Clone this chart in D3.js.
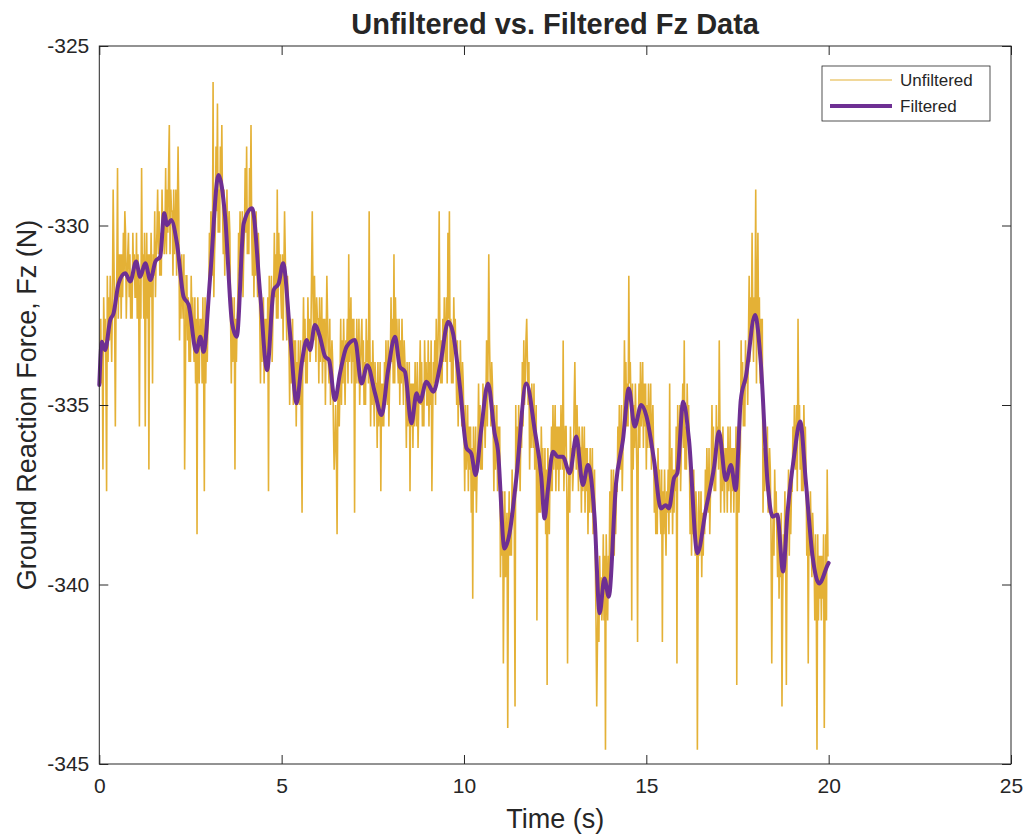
<!DOCTYPE html>
<html><head><meta charset="utf-8">
<script src="https://cdn.jsdelivr.net/npm/d3@7/dist/d3.min.js"></script>
<style>
body{margin:0;background:#fff}
svg{display:block}
text{font-family:"Liberation Sans",Arial,Helvetica,sans-serif;fill:#262626}
</style>
</head><body>
<svg id="chart" width="1026" height="838"></svg>
<script>
// ---------------- data ----------------
const titleText = "Unfiltered vs. Filtered Fz Data";
const xLabelText = "Time (s)";
const yLabelText = "Ground Reaction Force, Fz (N)";
const seriesNames = ["Unfiltered", "Filtered"];
const xTicks = [0, 5, 10, 15, 20, 25];
const yTicks = [-345, -340, -335, -330, -325];
const xDomain = [0, 25];
const yDomain = [-345, -325];

// raw force-plate samples (N), one every 0.02 s starting at t = 0 (one row per 0.2 s)
const sampleInterval = 0.02;
const unfiltered = [
-334.4,-333.8,-332.6,-334.4,-333.2,-336.8,-332.0,-333.2,-332.6,-333.8,
-337.4,-331.4,-333.8,-332.0,-333.2,-331.4,-332.6,-333.8,-332.0,-329.0,
-330.8,-332.6,-335.6,-332.0,-331.4,-328.4,-332.6,-330.8,-332.0,-330.8,
-332.6,-330.8,-332.0,-330.2,-331.4,-329.6,-330.2,-332.6,-331.4,-330.8,
-330.2,-332.0,-330.8,-332.6,-331.4,-332.6,-330.2,-331.4,-330.8,-332.0,
-332.0,-330.2,-332.6,-330.8,-332.0,-335.6,-331.4,-332.6,-328.4,-331.4,
-330.8,-332.6,-330.2,-335.6,-331.4,-330.2,-332.6,-330.8,-336.8,-330.8,
-332.0,-330.2,-331.4,-334.4,-330.8,-331.4,-329.6,-332.0,-330.8,-330.2,
-329.0,-330.8,-329.6,-331.4,-330.2,-331.4,-329.0,-330.2,-329.6,-330.8,
-330.2,-328.4,-330.8,-329.0,-330.2,-328.4,-327.2,-330.8,-329.0,-329.6,
-329.6,-331.4,-329.0,-330.8,-330.2,-329.0,-331.4,-329.6,-327.8,-329.6,
-333.2,-331.4,-332.6,-330.8,-332.0,-332.6,-330.8,-336.8,-334.4,-331.4,
-331.4,-333.2,-332.0,-333.8,-332.6,-333.8,-331.4,-332.6,-332.0,-333.2,
-333.8,-332.0,-334.4,-332.6,-338.6,-332.0,-333.2,-334.4,-332.6,-333.2,
-332.6,-334.4,-332.0,-333.8,-337.4,-332.0,-334.4,-332.6,-333.8,-332.6,
-332.0,-330.2,-331.4,-329.6,-330.8,-331.4,-326.0,-332.0,-330.8,-330.2,
-327.8,-329.6,-326.6,-330.2,-329.0,-330.2,-327.8,-329.0,-327.2,-329.6,
-330.8,-329.0,-331.4,-329.6,-330.8,-329.0,-330.2,-331.4,-329.6,-330.2,
-332.6,-334.4,-332.0,-333.8,-333.2,-332.0,-336.8,-332.6,-333.8,-332.6,
-332.0,-330.2,-331.4,-329.6,-330.8,-331.4,-329.6,-332.0,-330.8,-330.2,
-328.4,-330.2,-327.8,-330.8,-329.6,-330.8,-328.4,-329.6,-327.2,-330.2,
-331.4,-329.6,-332.0,-330.2,-331.4,-329.6,-330.8,-332.0,-330.2,-330.8,
-332.6,-334.4,-332.0,-333.8,-333.2,-332.0,-334.4,-332.6,-333.8,-332.6,
-333.8,-332.0,-337.4,-331.4,-332.6,-333.2,-331.4,-333.8,-332.6,-332.0,
-330.2,-332.0,-330.8,-332.6,-329.0,-332.6,-330.2,-331.4,-330.8,-332.0,
-332.6,-330.8,-333.2,-331.4,-329.6,-330.8,-332.0,-333.2,-331.4,-332.0,
-333.2,-335.0,-332.6,-334.4,-333.8,-332.6,-335.0,-333.2,-334.4,-333.2,
-335.6,-333.8,-335.0,-333.2,-334.4,-335.0,-333.2,-335.6,-338.0,-333.8,
-332.0,-333.8,-332.6,-334.4,-333.2,-334.4,-332.0,-333.2,-332.6,-333.8,
-333.2,-331.4,-329.6,-332.0,-333.2,-331.4,-332.6,-333.8,-332.0,-332.6,
-332.6,-334.4,-332.0,-333.8,-333.2,-332.0,-334.4,-332.6,-333.8,-332.6,
-335.0,-333.2,-331.4,-332.6,-333.8,-334.4,-332.6,-335.0,-333.8,-333.2,
-333.8,-335.6,-336.8,-336.2,-335.0,-336.2,-338.6,-335.0,-334.4,-335.6,
-334.4,-332.6,-335.0,-333.2,-334.4,-332.6,-333.8,-335.0,-333.2,-333.8,
-332.6,-334.4,-330.8,-333.8,-333.2,-332.0,-334.4,-332.6,-333.8,-332.6,
-338.0,-333.2,-334.4,-332.6,-333.8,-334.4,-332.6,-335.0,-333.8,-333.2,
-332.6,-334.4,-333.2,-335.0,-333.8,-335.0,-332.6,-333.8,-333.2,-334.4,
-329.6,-333.2,-335.6,-333.8,-335.0,-333.2,-334.4,-335.6,-333.8,-334.4,
-334.4,-336.2,-333.8,-335.6,-335.0,-333.8,-337.4,-334.4,-335.6,-334.4,
-335.6,-333.8,-335.0,-333.2,-334.4,-335.0,-333.2,-335.6,-334.4,-333.8,
-332.0,-333.8,-332.6,-334.4,-330.8,-334.4,-332.0,-333.2,-332.6,-333.8,
-334.4,-332.6,-335.0,-333.2,-334.4,-332.6,-333.8,-335.0,-333.2,-333.8,
-334.4,-336.2,-333.8,-335.6,-335.0,-333.8,-337.4,-334.4,-335.6,-334.4,
-336.2,-334.4,-335.6,-333.8,-335.0,-335.6,-333.8,-336.2,-335.0,-334.4,
-333.2,-335.0,-333.8,-335.6,-334.4,-335.6,-333.2,-334.4,-333.8,-335.0,
-335.0,-333.2,-335.6,-333.8,-335.0,-333.2,-337.4,-335.6,-333.8,-334.4,
-333.2,-335.0,-332.6,-334.4,-333.8,-332.6,-329.6,-333.2,-334.4,-333.2,
-334.4,-332.6,-333.8,-332.0,-333.2,-333.8,-332.0,-334.4,-330.2,-332.6,
-329.6,-333.8,-332.6,-334.4,-333.2,-334.4,-332.0,-333.2,-332.6,-333.8,
-335.0,-333.2,-335.6,-333.8,-335.0,-333.2,-334.4,-335.6,-333.8,-334.4,
-335.6,-337.4,-335.0,-336.8,-336.2,-335.0,-337.4,-335.6,-336.8,-335.6,
-338.0,-336.2,-340.4,-335.6,-336.8,-337.4,-335.6,-338.0,-336.8,-336.2,
-334.4,-336.2,-335.0,-336.8,-335.6,-336.8,-334.4,-335.6,-335.0,-336.2,
-335.0,-333.2,-335.6,-333.8,-330.8,-333.2,-334.4,-335.6,-333.8,-334.4,
-335.6,-337.4,-335.0,-336.8,-336.2,-335.0,-337.4,-335.6,-336.8,-335.6,
-339.8,-338.0,-339.2,-337.4,-342.2,-339.2,-337.4,-339.8,-338.6,-338.0,
-344.0,-338.6,-337.4,-339.2,-338.0,-339.2,-336.8,-338.0,-337.4,-338.6,
-343.4,-335.0,-337.4,-335.6,-336.8,-335.0,-336.2,-337.4,-335.6,-336.2,
-333.8,-335.6,-333.2,-335.0,-334.4,-333.2,-332.6,-333.8,-335.0,-333.8,
-336.8,-335.0,-336.2,-334.4,-335.6,-336.2,-334.4,-336.8,-335.6,-335.0,
-341.0,-337.4,-336.2,-338.0,-336.8,-338.0,-335.6,-336.8,-336.2,-337.4,
-338.0,-336.2,-338.6,-336.8,-342.8,-336.2,-337.4,-338.6,-336.8,-337.4,
-335.6,-337.4,-335.0,-336.8,-336.2,-335.0,-337.4,-335.6,-336.8,-335.6,
-337.4,-335.6,-336.8,-335.0,-336.2,-336.8,-333.2,-337.4,-336.2,-335.6,
-335.6,-337.4,-342.2,-338.0,-336.8,-338.0,-335.6,-336.8,-336.2,-337.4,
-336.8,-335.0,-333.8,-335.6,-336.8,-335.0,-336.2,-337.4,-335.6,-336.2,
-336.2,-338.0,-335.6,-337.4,-336.8,-335.6,-338.0,-336.2,-337.4,-336.2,
-338.6,-336.8,-338.0,-336.2,-337.4,-338.0,-336.2,-338.6,-337.4,-336.8,
-339.2,-341.0,-343.4,-341.6,-340.4,-341.6,-339.2,-340.4,-339.8,-341.0,
-340.4,-338.6,-341.0,-339.2,-344.6,-338.6,-339.8,-341.0,-339.2,-339.8,
-337.4,-339.2,-336.8,-338.6,-338.0,-336.8,-339.2,-337.4,-338.6,-337.4,
-337.4,-335.6,-336.8,-335.0,-336.2,-336.8,-335.0,-337.4,-336.2,-335.6,
-333.2,-335.0,-333.8,-335.6,-334.4,-335.6,-331.4,-334.4,-333.8,-335.0,
-341.0,-334.4,-336.8,-335.0,-336.2,-334.4,-335.6,-336.8,-341.6,-335.6,
-334.4,-336.2,-333.8,-335.6,-335.0,-333.8,-336.2,-334.4,-335.6,-334.4,
-336.8,-335.0,-336.2,-334.4,-335.6,-336.2,-334.4,-336.8,-335.6,-335.0,
-336.2,-338.0,-336.8,-338.6,-337.4,-338.6,-336.2,-337.4,-336.8,-338.0,
-338.6,-336.8,-341.6,-337.4,-338.6,-336.8,-338.0,-339.2,-337.4,-338.0,
-336.8,-338.6,-334.4,-338.0,-337.4,-336.2,-338.6,-336.8,-338.0,-336.8,
-337.4,-335.6,-342.2,-335.0,-336.2,-336.8,-335.0,-337.4,-336.2,-335.6,
-334.4,-336.2,-333.2,-336.8,-335.6,-336.8,-334.4,-335.6,-335.0,-336.2,
-338.6,-336.8,-339.2,-337.4,-338.6,-336.8,-338.0,-339.2,-337.4,-338.0,
-344.6,-339.8,-337.4,-339.2,-338.6,-337.4,-339.8,-338.0,-339.2,-338.0,
-338.6,-336.8,-338.0,-336.2,-337.4,-338.0,-336.2,-338.6,-337.4,-336.8,
-335.0,-336.8,-335.6,-337.4,-336.2,-337.4,-335.0,-336.2,-335.6,-336.8,
-333.2,-335.6,-338.0,-336.2,-337.4,-335.6,-336.8,-338.0,-336.2,-336.8,
-336.2,-338.0,-335.6,-337.4,-336.8,-335.6,-338.0,-336.2,-337.4,-336.2,
-338.0,-336.2,-337.4,-335.6,-342.8,-337.4,-335.6,-338.0,-336.8,-336.2,
-333.2,-335.0,-333.8,-335.6,-334.4,-335.6,-333.2,-334.4,-333.8,-335.0,
-333.2,-331.4,-333.8,-332.0,-333.2,-330.2,-332.6,-333.8,-332.0,-332.6,
-329.0,-334.4,-332.0,-330.2,-333.2,-332.0,-334.4,-332.6,-333.8,-332.6,
-338.0,-336.2,-337.4,-335.6,-336.8,-337.4,-335.6,-338.0,-336.8,-336.2,
-336.8,-338.6,-342.2,-339.2,-338.0,-339.2,-336.8,-338.0,-337.4,-338.6,
-339.8,-338.0,-340.4,-338.6,-339.8,-338.0,-343.4,-340.4,-338.6,-339.2,
-337.4,-339.2,-342.8,-338.6,-338.0,-336.8,-339.2,-337.4,-338.6,-337.4,
-337.4,-335.6,-336.8,-335.0,-336.2,-336.8,-335.0,-337.4,-332.6,-335.6,
-335.0,-336.8,-335.6,-337.4,-336.2,-337.4,-335.0,-336.2,-335.6,-336.8,
-339.2,-337.4,-342.2,-338.0,-339.2,-337.4,-338.6,-339.8,-338.0,-338.6,
-339.2,-341.0,-338.6,-340.4,-344.6,-338.6,-341.0,-339.2,-340.4,-339.2,
-341.0,-339.2,-340.4,-338.6,-344.0,-340.4,-338.6,-341.0,-336.8,-339.2,
-339.2
];

// low-pass filtered signal
const filteredTime = [0,0.07,0.16,0.30,0.39,0.53,0.71,0.85,1.01,1.12,1.26,1.40,1.54,1.67,1.78,1.86,1.97,2.13,2.31,2.45,2.66,2.77,2.86,3.04,3.27,3.45,3.64,3.77,3.96,4.19,4.41,4.60,4.78,4.92,5.04,5.23,5.41,5.55,5.69,5.78,5.91,6.05,6.19,6.30,6.46,6.60,6.78,7.01,7.19,7.35,7.56,7.74,7.92,8.11,8.24,8.38,8.56,8.70,8.79,8.97,9.16,9.34,9.57,9.70,9.89,10.07,10.20,10.32,10.47,10.66,10.84,10.93,11.11,11.25,11.43,11.71,11.94,12.12,12.21,12.30,12.44,12.57,12.71,12.90,13.08,13.26,13.40,13.58,13.72,13.85,13.97,14.17,14.36,14.52,14.68,14.86,15.00,15.21,15.40,15.53,15.62,15.76,15.85,16.01,16.17,16.40,16.63,16.86,16.99,17.18,17.32,17.45,17.59,17.73,17.98,18.14,18.32,18.46,18.59,18.75,18.87,19.05,19.22,19.37,19.56,19.74,19.97,20.00];
const filteredForce = [-334.44,-333.24,-333.47,-332.63,-332.45,-331.61,-331.33,-331.56,-331.00,-331.43,-331.05,-331.52,-331.00,-330.87,-329.66,-329.99,-329.85,-330.50,-331.98,-332.21,-333.52,-333.10,-333.52,-331.43,-328.59,-329.75,-332.72,-333.10,-329.94,-329.52,-331.89,-334.03,-331.80,-331.61,-331.05,-333.00,-334.95,-333.84,-333.19,-333.47,-332.77,-333.10,-333.65,-333.75,-334.86,-334.12,-333.38,-333.19,-334.40,-333.89,-334.67,-335.28,-334.03,-333.10,-333.93,-334.07,-335.51,-334.67,-334.91,-334.35,-334.63,-333.93,-332.68,-333.00,-334.50,-336.20,-336.35,-336.95,-335.70,-334.40,-335.79,-336.25,-339.00,-338.57,-337.09,-334.40,-335.70,-337.00,-338.16,-337.37,-336.30,-336.44,-336.44,-336.90,-335.88,-337.23,-336.67,-338.11,-340.80,-339.83,-340.34,-337.18,-335.97,-334.54,-335.60,-335.00,-335.30,-336.53,-337.88,-337.79,-337.88,-337.04,-336.90,-334.91,-335.97,-339.13,-337.92,-336.72,-335.74,-337.09,-336.67,-337.37,-334.86,-334.21,-332.49,-333.84,-337.09,-338.11,-338.06,-339.64,-338.02,-336.44,-335.46,-337.09,-339.23,-339.97,-339.46,-339.40];

// ---------------- drawing ----------------
const plot = {left: 99.3, right: 1011, top: 46, bottom: 764};
const axisColor = "#262626";
const rawColor = "#E4B136";
const filtColor = "#6E2F93";

const svg = d3.select("#chart");
const x = d3.scaleLinear().domain(xDomain).range([plot.left, plot.right]);
const y = d3.scaleLinear().domain(yDomain).range([plot.bottom, plot.top]);

// data lines
const rawPts = unfiltered.map((v, i) => [i * sampleInterval, v]);
svg.append("path")
  .datum(rawPts)
  .attr("fill", "none")
  .attr("stroke", rawColor)
  .attr("stroke-width", 1.6)
  .attr("d", d3.line().x(d => x(d[0])).y(d => y(d[1])));

const filtPts = filteredTime.map((t, i) => [t, filteredForce[i]]);
svg.append("path")
  .datum(filtPts)
  .attr("fill", "none")
  .attr("stroke", filtColor)
  .attr("stroke-width", 4)
  .attr("stroke-linejoin", "round")
  .attr("stroke-linecap", "round")
  .attr("d", d3.line().curve(d3.curveMonotoneX).x(d => x(d[0])).y(d => y(d[1])));

// axes box
svg.append("rect")
  .attr("x", plot.left).attr("y", plot.top)
  .attr("width", plot.right - plot.left).attr("height", plot.bottom - plot.top)
  .attr("fill", "none").attr("stroke", axisColor).attr("stroke-width", 1);

const tickLen = 9;
const styleAxis = g => {
  g.select(".domain").remove();
  g.selectAll(".tick line").attr("stroke", axisColor).attr("stroke-width", 1);
  g.selectAll(".tick text").attr("fill", axisColor).style("font-size", "21px")
    .style("font-family", '"Liberation Sans", Arial, sans-serif');
};

svg.append("g").attr("transform", `translate(0,${plot.bottom})`)
  .call(d3.axisBottom(x).tickValues(xTicks).tickSizeInner(-tickLen).tickSizeOuter(0).tickPadding(14).tickFormat(d3.format("d")))
  .call(styleAxis);
svg.append("g").attr("transform", `translate(0,${plot.top})`)
  .call(d3.axisTop(x).tickValues(xTicks).tickSizeInner(-tickLen).tickSizeOuter(0).tickFormat(""))
  .call(styleAxis);
svg.append("g").attr("transform", `translate(${plot.left},0)`)
  .call(d3.axisLeft(y).tickValues(yTicks).tickSizeInner(-tickLen).tickSizeOuter(0).tickPadding(10).tickFormat(d => String(d)))
  .call(styleAxis);
svg.append("g").attr("transform", `translate(${plot.right},0)`)
  .call(d3.axisRight(y).tickValues(yTicks).tickSizeInner(-tickLen).tickSizeOuter(0).tickFormat(""))
  .call(styleAxis);

// title and labels
svg.append("text")
  .attr("x", (plot.left + plot.right) / 2).attr("y", 34)
  .attr("text-anchor", "middle")
  .style("font-size", "29px").style("font-weight", "bold")
  .text(titleText);
svg.append("text")
  .attr("x", (plot.left + plot.right) / 2).attr("y", 828)
  .attr("text-anchor", "middle")
  .style("font-size", "27px")
  .text(xLabelText);
svg.append("text")
  .attr("transform", `translate(36,${(plot.top + plot.bottom) / 2}) rotate(-90)`)
  .attr("text-anchor", "middle")
  .style("font-size", "27px")
  .text(yLabelText);

// legend
const lg = svg.append("g").attr("transform", "translate(822,66)");
lg.append("rect").attr("width", 168).attr("height", 55)
  .attr("fill", "#fff").attr("stroke", axisColor).attr("stroke-width", 0.8);
const legendItems = [
  {name: seriesNames[0], color: rawColor, width: 1.2, yy: 14},
  {name: seriesNames[1], color: filtColor, width: 4, yy: 40}
];
legendItems.forEach(it => {
  lg.append("line").attr("x1", 8).attr("x2", 70).attr("y1", it.yy).attr("y2", it.yy)
    .attr("stroke", it.color).attr("stroke-width", it.width);
  lg.append("text").attr("x", 78).attr("y", it.yy).attr("dy", "0.35em")
    .style("font-size", "17px").text(it.name);
});
</script>
</body></html>
